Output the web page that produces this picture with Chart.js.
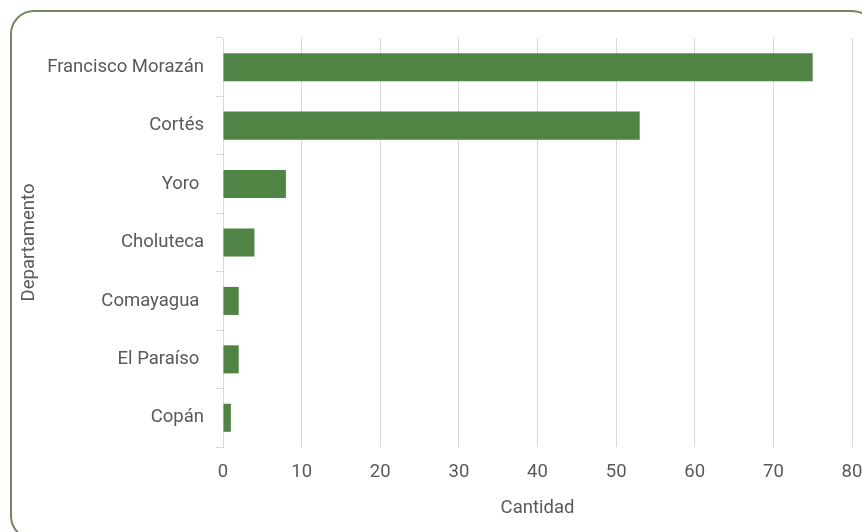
<!DOCTYPE html>
<html>
<head>
<meta charset="utf-8">
<script src="https://cdn.jsdelivr.net/npm/chart.js@4/dist/chart.umd.min.js"></script>
<style>
  html, body { margin: 0; padding: 0; background: #fff; overflow: hidden; }
  #wrap { position: relative; width: 862px; height: 532px; }
  #frame { position: absolute; left: 10px; top: 10px; width: 866px; height: 530px; border: 2px solid #74875f; border-radius: 24px; box-sizing: border-box; pointer-events: none; }
  canvas { position: absolute; left: 0; top: 0; }
</style>
</head>
<body>
<div id="wrap">
  <canvas id="c" width="862" height="532"></canvas>
  <div id="frame"></div>
</div>
<script>
const categories = ["Francisco Morazán", "Cortés", "Yoro ", "Choluteca", "Comayagua ", "El Paraíso ", "Copán"];
const cantidad = [75, 53, 8, 4, 2, 2, 1];
const xTicks = [0, 10, 20, 30, 40, 50, 60, 70, 80];
const xTitle = "Cantidad";
const yTitle = "Departamento";

const FONT = "Roboto, 'Open Sans', sans-serif";
const TXT = "#595959";
const FS = 18.5;

new Chart(document.getElementById('c'), {
  type: 'bar',
  data: {
    labels: categories,
    datasets: [{
      data: cantidad,
      backgroundColor: '#4f8444',
      borderWidth: 0,
      barPercentage: 0.48,
      categoryPercentage: 1.0
    }]
  },
  options: {
    indexAxis: 'y',
    responsive: false,
    animation: false,
    layout: { padding: { left: 18, right: 0, top: 38, bottom: 13 } },
    plugins: { legend: { display: false }, tooltip: { enabled: false } },
    scales: {
      x: {
        min: xTicks[0], max: xTicks[xTicks.length - 1],
        afterBuildTicks: (ax) => { ax.ticks = xTicks.map(v => ({ value: v })); },
        afterFit: (ax) => { ax.height = 72; ax.paddingRight = 10; ax.paddingLeft = 0; },
        border: { display: false },
        grid: { color: '#d9d9d9', lineWidth: 1, drawTicks: false },
        ticks: { color: TXT, font: { family: FONT, size: FS }, padding: 14 },
        title: { display: true, text: xTitle, color: TXT, font: { family: FONT, size: FS }, padding: { top: 0, bottom: 0 } }
      },
      y: {
        offset: true,
        afterFit: (ax) => { ax.width = 205; },
        border: { display: true, color: '#d9d9d9', width: 1 },
        grid: { display: true, drawOnChartArea: false, color: '#d9d9d9', tickLength: 7, offset: true },
        ticks: { color: TXT, font: { family: FONT, size: FS }, padding: 12 },
        title: { display: true, text: yTitle, color: TXT, font: { family: FONT, size: FS }, padding: { top: 0, bottom: 0 } }
      }
    }
  }
});
</script>
</body>
</html>
